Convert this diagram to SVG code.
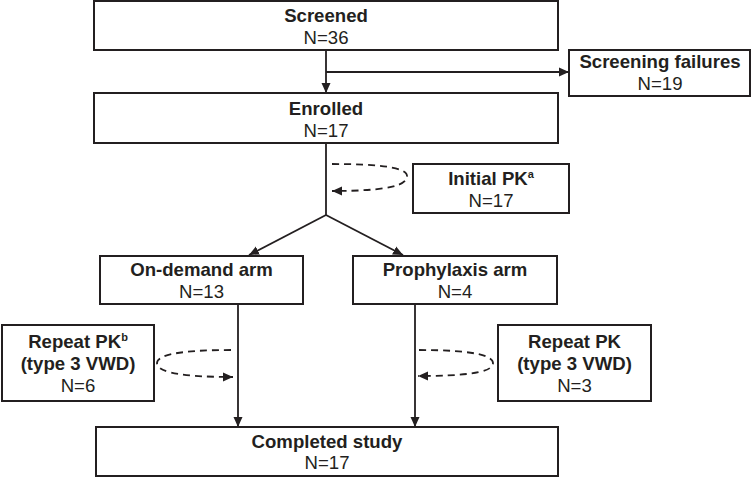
<svg xmlns="http://www.w3.org/2000/svg" width="752" height="477" viewBox="0 0 752 477">
<style>
.box{fill:#fff;stroke:#231f20;stroke-width:2}
.ln{fill:none;stroke:#231f20;stroke-width:1.8}
.dash{fill:none;stroke:#231f20;stroke-width:1.8;stroke-dasharray:7 5}
text{font-family:"Liberation Sans",Arial,sans-serif;font-size:18.6px;fill:#231f20;text-anchor:middle}
.b{font-weight:bold}
.sup{font-size:11px;font-weight:bold}
</style>
<defs>
<marker id="ah" markerUnits="userSpaceOnUse" markerWidth="10" markerHeight="10" viewBox="0 0 10 10" refX="10" refY="5" orient="auto">
<path d="M0,0.5 L10,5 L0,9.5 Z" fill="#231f20"/>
</marker>
</defs>
<rect width="752" height="477" fill="#fff"/>
<g id="connectors">
<line class="ln" x1="326" y1="50" x2="326" y2="93" marker-end="url(#ah)"/>
<line class="ln" x1="326" y1="72" x2="569" y2="72" marker-end="url(#ah)"/>
<line class="ln" x1="326" y1="143" x2="326" y2="215"/>
<line class="ln" x1="326" y1="215" x2="249" y2="255" marker-end="url(#ah)"/>
<line class="ln" x1="326" y1="215" x2="403" y2="255" marker-end="url(#ah)"/>
<path class="dash" d="M332,164 C395,164 408,170 407,177 C406,185 390,191 332,191" marker-end="url(#ah)"/>
<line class="ln" x1="238" y1="304" x2="238" y2="427" marker-end="url(#ah)"/>
<line class="ln" x1="415" y1="304" x2="415" y2="427" marker-end="url(#ah)"/>
<path class="dash" d="M231,350 C170,350 157,357 157,363 C157,370 170,377 233,377" marker-end="url(#ah)"/>
<path class="dash" d="M419,350 C480,350 493,357 493,363 C493,370 480,376 418,376" marker-end="url(#ah)"/>
</g>
<g id="screened">
<rect class="box" x="94" y="1" width="464" height="49"/>
<text class="b" x="326" y="22">Screened</text>
<text x="326" y="44">N=36</text>
</g>
<g id="screening-failures">
<rect class="box" x="569" y="50" width="181" height="46"/>
<text class="b" x="660" y="68">Screening failures</text>
<text x="660" y="90">N=19</text>
</g>
<g id="enrolled">
<rect class="box" x="94" y="93" width="464" height="50"/>
<text class="b" x="326" y="115">Enrolled</text>
<text x="326" y="137">N=17</text>
</g>
<g id="initial-pk">
<rect class="box" x="413" y="164" width="156" height="49"/>
<text class="b" x="491" y="185">Initial PK<tspan class="sup" dy="-7">a</tspan></text>
<text x="491" y="207">N=17</text>
</g>
<g id="on-demand">
<rect class="box" x="100" y="256" width="203" height="48"/>
<text class="b" x="201.5" y="276">On-demand arm</text>
<text x="201.5" y="298">N=13</text>
</g>
<g id="prophylaxis">
<rect class="box" x="353" y="256" width="204" height="48"/>
<text class="b" x="455" y="276">Prophylaxis arm</text>
<text x="455" y="298">N=4</text>
</g>
<g id="repeat-pk-b">
<rect class="box" x="2" y="325" width="152" height="76"/>
<text class="b" x="78" y="348">Repeat PK<tspan class="sup" dy="-7">b</tspan></text>
<text class="b" x="78" y="370">(type 3 VWD)</text>
<text x="78" y="392">N=6</text>
</g>
<g id="repeat-pk">
<rect class="box" x="498" y="325" width="153" height="76"/>
<text class="b" x="574.5" y="348">Repeat PK</text>
<text class="b" x="574.5" y="370">(type 3 VWD)</text>
<text x="574.5" y="392">N=3</text>
</g>
<g id="completed">
<rect class="box" x="96" y="427" width="462" height="49"/>
<text class="b" x="327" y="448">Completed study</text>
<text x="327" y="469">N=17</text>
</g>
</svg>
